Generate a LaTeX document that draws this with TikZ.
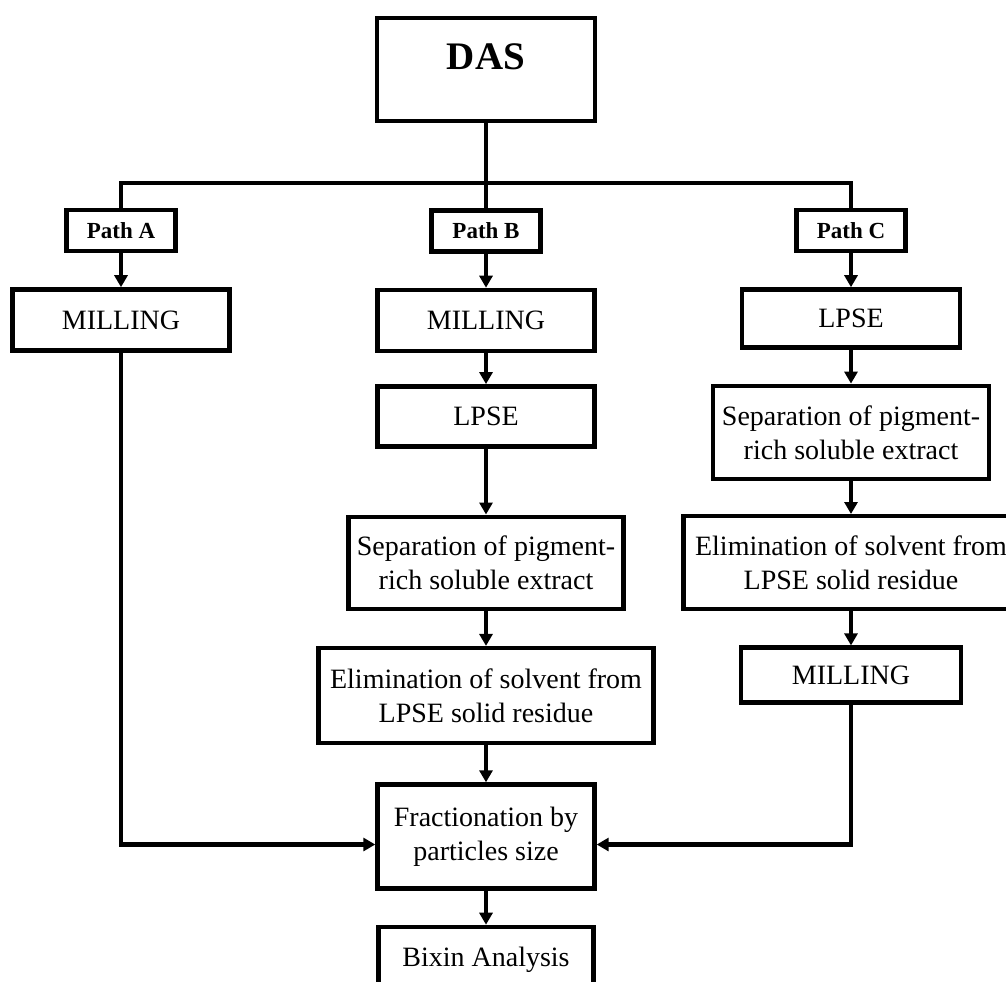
\documentclass[tikz,border=0pt]{standalone}
\usepackage{fontspec}
\setmainfont{Liberation Serif}
\usetikzlibrary{positioning,arrows.meta}

\tikzset{
  box/.style={draw, line width=2.2pt, inner sep=2pt, align=center,
    minimum width=108.5pt, font=\fontsize{14}{17}\selectfont},
  pathbox/.style={box, minimum width=54.5pt, minimum height=20.5pt,
    font=\fontsize{11.5}{13}\selectfont\bfseries},
  flow/.style={line width=2.2pt, -{Triangle[length=6pt,width=6.5pt]}},
  link/.style={line width=2.2pt}
}

\begin{document}
\begin{tikzpicture}[x=0.5pt, y=-0.5pt]

\useasboundingbox (0,0) rectangle (1006,981);
\clip (0,0) rectangle (1006,981);

\node[box, minimum width=109pt, minimum height=51.5pt,
  label={[font=\fontsize{19.5}{22}\selectfont\bfseries, yshift=6.5pt]center:DAS}] (das) at (486,69.5) {};

\coordinate (split) at (486,183);

\node[pathbox] (pathA) at (121,230.5) {Path A};
\node[pathbox] (pathB) at (486,231) {Path B};
\node[pathbox] (pathC) at (851,230.5) {Path C};

% path A
\node[box, minimum height=30.5pt, below=17pt of pathA] (millA) {MILLING};

% path B
\node[box, minimum height=30.5pt, below=17pt of pathB] (millB) {MILLING};
\node[box, minimum height=30pt, below=15.5pt of millB] (lpseB) {LPSE};
\node[box, minimum width=137.5pt, minimum height=46pt, below=33pt of lpseB] (sepB) {Separation of pigment-\\rich soluble extract};
\node[box, minimum width=167.5pt, minimum height=47.5pt, below=17.5pt of sepB] (elimB) {Elimination of solvent from\\LPSE solid residue};
\node[box, minimum height=52pt, below=18.5pt of elimB] (frac) {Fractionation by\\particles size};
\node[box, minimum width=107.5pt, minimum height=33pt, below=17pt of frac] (bixin) {Bixin Analysis};

% path C
\node[box, minimum width=109pt, minimum height=29pt, below=17pt of pathC] (lpseC) {LPSE};
\node[box, minimum width=138pt, minimum height=46.5pt, below=17pt of lpseC] (sepC) {Separation of pigment-\\rich soluble extract};
\node[box, minimum width=167.5pt, minimum height=46.5pt, below=16.5pt of sepC] (elimC) {Elimination of solvent from\\LPSE solid residue};
\node[box, minimum width=110pt, minimum height=27.5pt, below=17pt of elimC] (millC) {MILLING};

\draw[link] (das.south) -- (split);
\draw[link] (pathA.north) |- (split) -| (pathC.north);
\draw[link] (split) -- (pathB.north);

\draw[flow] (pathA) -- (millA);
\draw[flow] (pathB) -- (millB);
\draw[flow] (millB) -- (lpseB);
\draw[flow] (lpseB) -- (sepB);
\draw[flow] (sepB) -- (elimB);
\draw[flow] (elimB) -- (frac);
\draw[flow] (frac) -- (bixin);

\draw[flow] (pathC) -- (lpseC);
\draw[flow] (lpseC) -- (sepC);
\draw[flow] (sepC) -- (elimC);
\draw[flow] (elimC) -- (millC);

\draw[flow] (millA.south) |- ([yshift=-4pt]frac.west);
\draw[flow] (millC.south) |- ([yshift=-4pt]frac.east);

\end{tikzpicture}
\end{document}
